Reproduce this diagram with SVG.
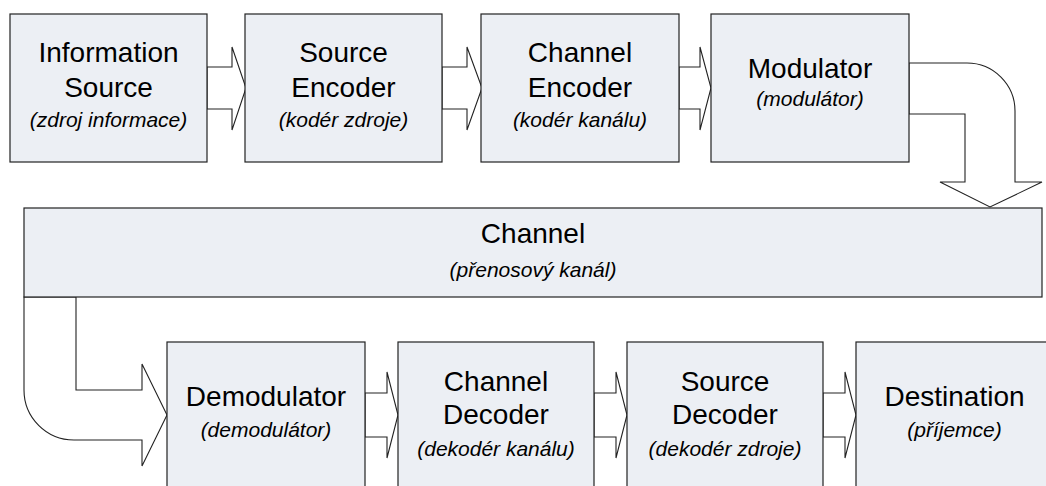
<svg xmlns="http://www.w3.org/2000/svg" width="1046" height="486" viewBox="0 0 1046 486">
<style>
.box{fill:#ECEFF4;stroke:#222;stroke-width:1.2}
.arr{fill:#fff;stroke:#222;stroke-width:1.1;stroke-linejoin:miter}
.t{font-family:"Liberation Sans",Arial,sans-serif;font-size:28px;fill:#000;text-anchor:middle}
.s{font-family:"Liberation Sans",Arial,sans-serif;font-size:21px;font-style:italic;fill:#000;text-anchor:middle}
</style>
<rect width="1046" height="486" fill="#fff"/>
<g id="connectors">
<path class="arr" d="M207,67 H232 V47 L246,88 L232,130 V109 H207 Z"/>
<path class="arr" d="M442,67 H467 V47 L482,88 L467,130 V109 H442 Z"/>
<path class="arr" d="M679,67 H700 V47 L711,88 L700,130 V109 H679 Z"/>
<path class="arr" d="M909,63 H967 A48,48 0 0 1 1015,111 V182 H1042 L990,207 L940,182 H965 V114 H909 Z"/>
<path class="arr" d="M24,297 V390 A50,50 0 0 0 74,440 H142 V466 L167,415 L142,364 V390 H76 V297 Z"/>
<path class="arr" d="M365,393 H387 V372 L398,415 L387,458 V437 H365 Z"/>
<path class="arr" d="M594,393 H616 V372 L627,415 L616,458 V437 H594 Z"/>
<path class="arr" d="M823,393 H845 V372 L856,415 L845,458 V437 H823 Z"/>
</g>
<g id="information-source">
<rect class="box" x="10" y="14" width="197" height="148"/>
<text class="t" x="108.5" y="62">Information</text>
<text class="t" x="108.5" y="97">Source</text>
<text class="s" x="108.5" y="127">(zdroj informace)</text>
</g>
<g id="source-encoder">
<rect class="box" x="245" y="14" width="197" height="148"/>
<text class="t" x="343.5" y="62">Source</text>
<text class="t" x="343.5" y="97">Encoder</text>
<text class="s" x="343.5" y="127">(kodér zdroje)</text>
</g>
<g id="channel-encoder">
<rect class="box" x="481" y="14" width="198" height="148"/>
<text class="t" x="580" y="62">Channel</text>
<text class="t" x="580" y="97">Encoder</text>
<text class="s" x="580" y="127">(kodér kanálu)</text>
</g>
<g id="modulator">
<rect class="box" x="711" y="14" width="198" height="148"/>
<text class="t" x="810" y="78">Modulator</text>
<text class="s" x="810" y="106">(modulátor)</text>
</g>
<g id="channel">
<rect class="box" x="24" y="208" width="1018" height="89"/>
<text class="t" x="533" y="243">Channel</text>
<text class="s" x="533" y="277">(přenosový kanál)</text>
</g>
<g id="demodulator">
<rect class="box" x="167" y="342" width="198" height="160"/>
<text class="t" x="266" y="406">Demodulator</text>
<text class="s" x="266" y="437">(demodulátor)</text>
</g>
<g id="channel-decoder">
<rect class="box" x="398" y="342" width="196" height="160"/>
<text class="t" x="496" y="391">Channel</text>
<text class="t" x="496" y="424">Decoder</text>
<text class="s" x="496" y="456">(dekodér kanálu)</text>
</g>
<g id="source-decoder">
<rect class="box" x="627" y="342" width="196" height="160"/>
<text class="t" x="725" y="391">Source</text>
<text class="t" x="725" y="424">Decoder</text>
<text class="s" x="725" y="456">(dekodér zdroje)</text>
</g>
<g id="destination">
<rect class="box" x="856" y="342" width="197" height="160"/>
<text class="t" x="954.5" y="406">Destination</text>
<text class="s" x="954.5" y="437">(příjemce)</text>
</g>
</svg>
